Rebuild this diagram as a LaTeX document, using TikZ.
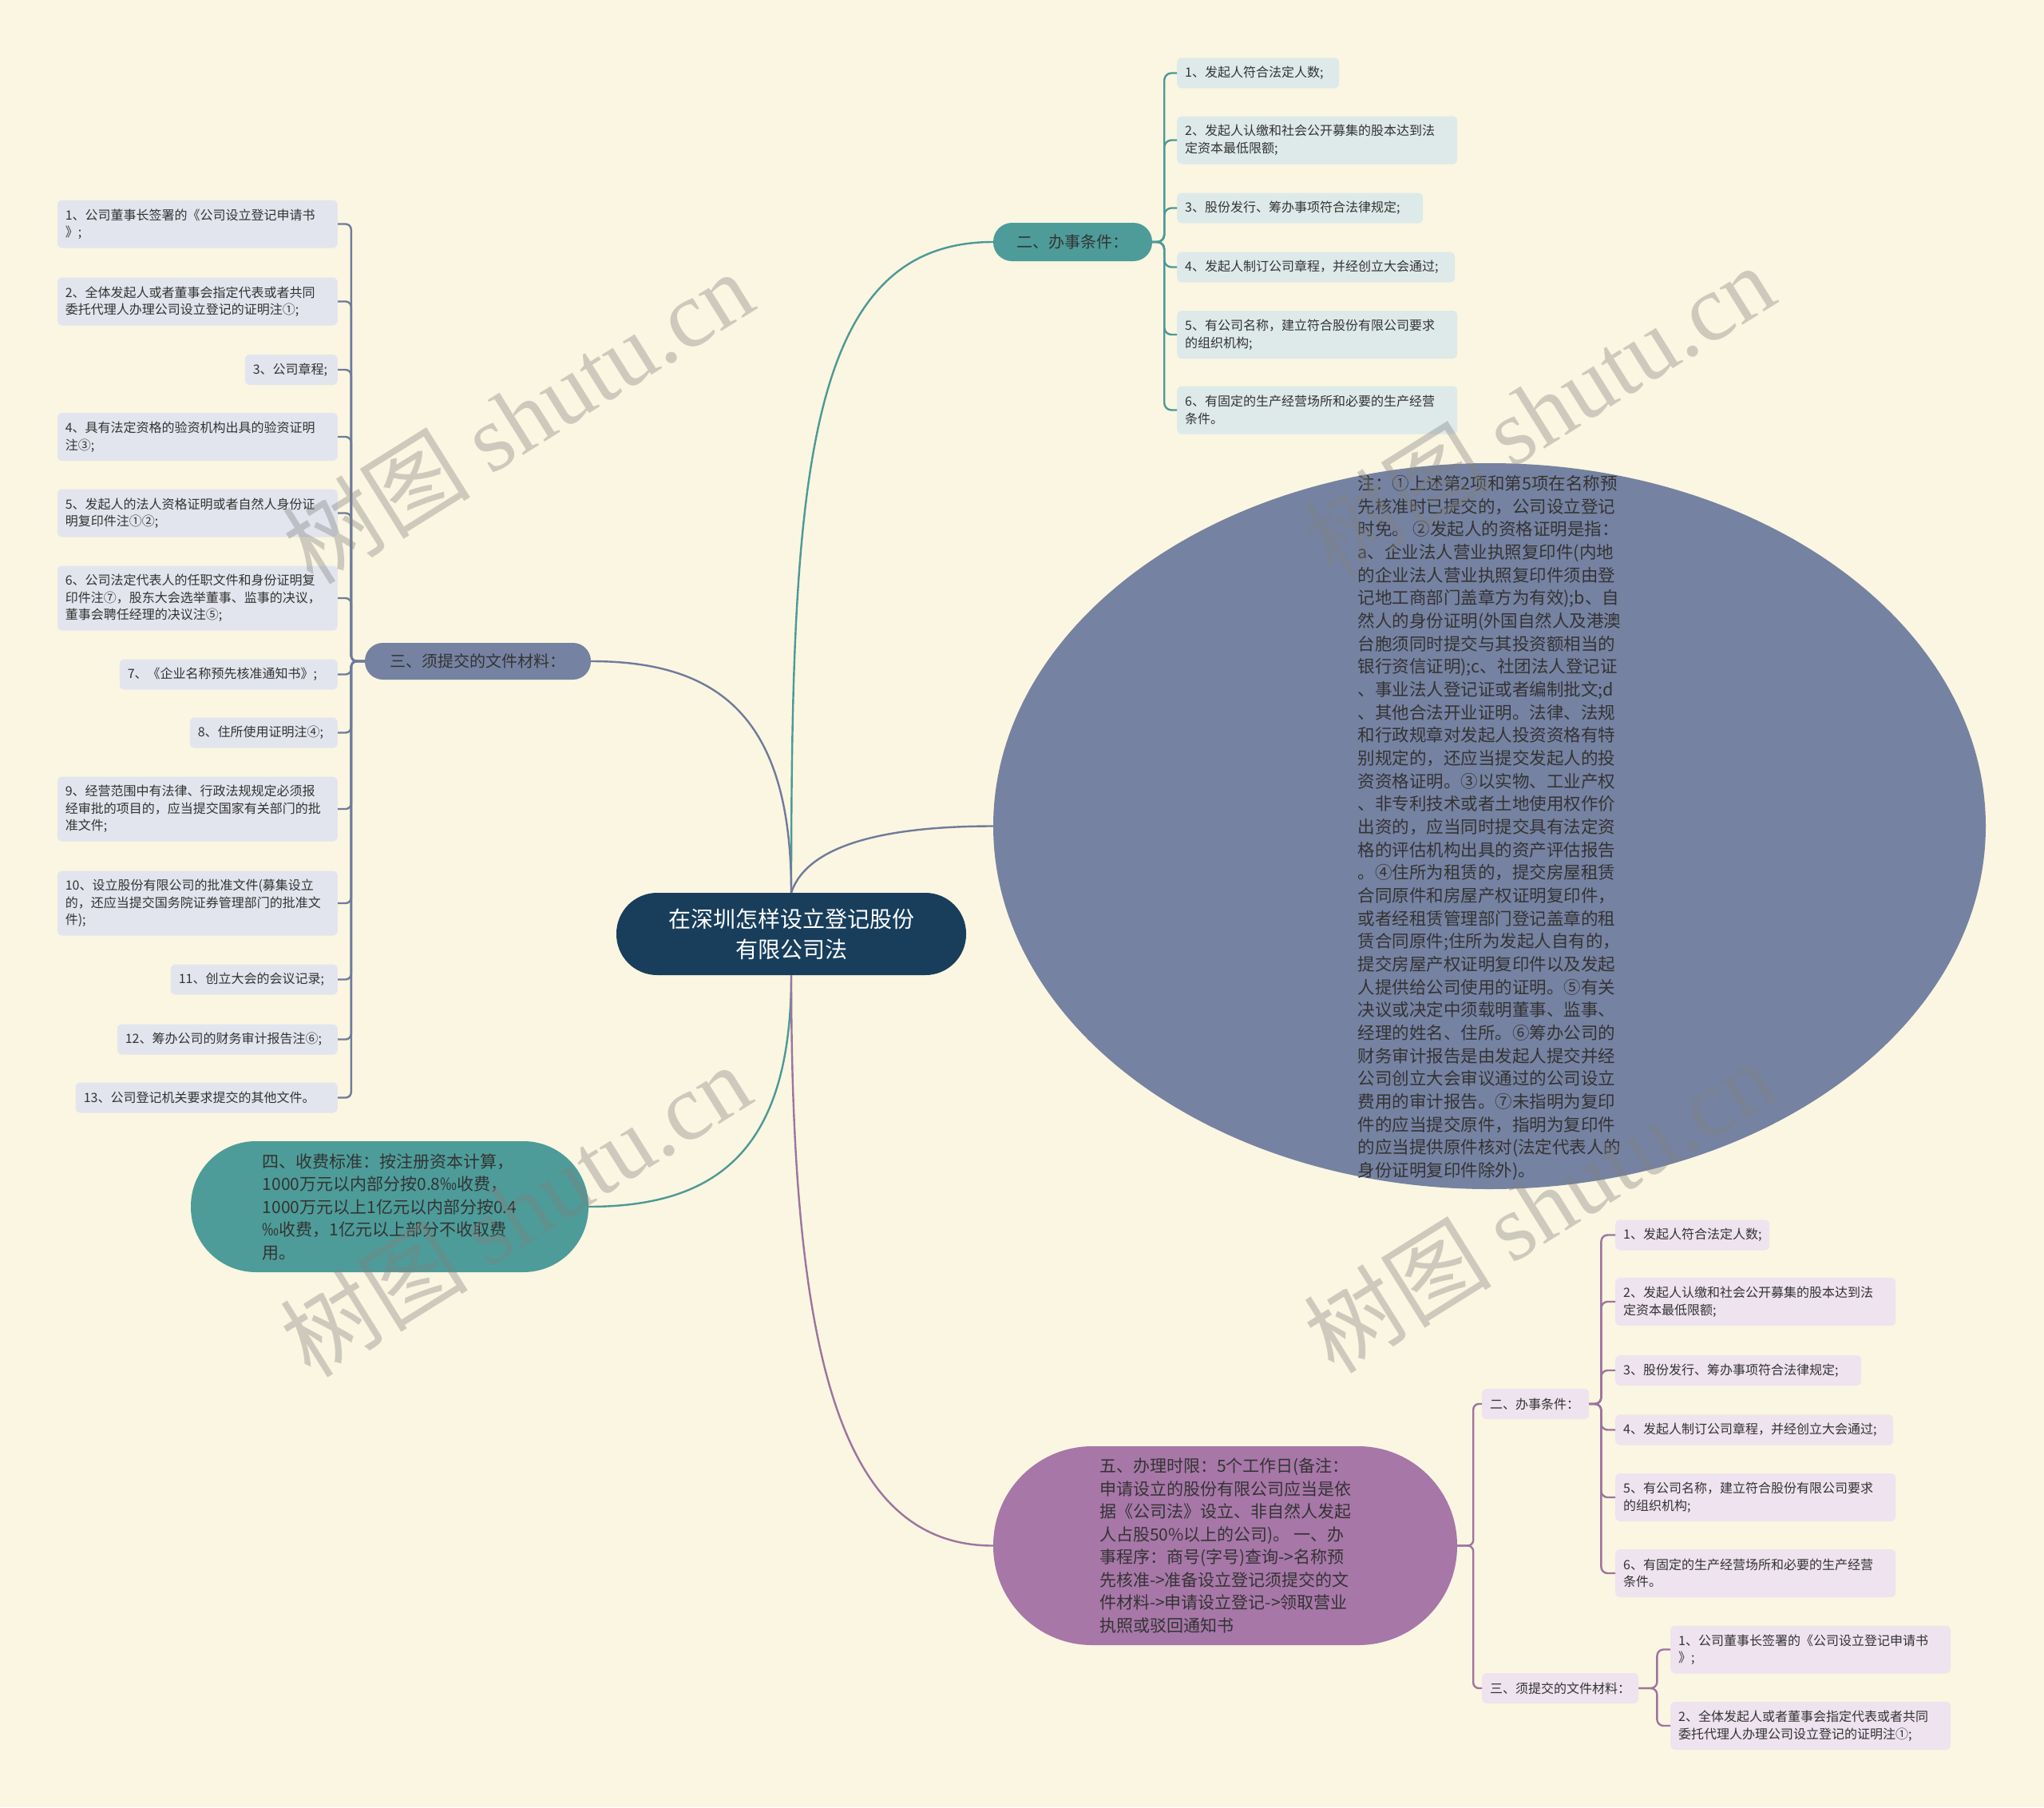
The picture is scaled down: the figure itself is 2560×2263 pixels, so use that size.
\documentclass[tikz,border=0pt]{standalone}
\usepackage{fontspec}
\setmainfont{Noto Sans CJK SC}
\newfontfamily\wmlatin{Liberation Serif}
\usetikzlibrary{shapes.geometric}
\definecolor{bgc}{HTML}{FAF6E1}
\definecolor{navy}{HTML}{183E5C}
\definecolor{tealc}{HTML}{4D9C99}
\definecolor{slatec}{HTML}{7682A1}
\definecolor{purpc}{HTML}{A777A8}
\definecolor{tealbox}{HTML}{DDEAE9}
\definecolor{slatebox}{HTML}{E3E5EE}
\definecolor{purpbox}{HTML}{EEE3EE}
\definecolor{tealline}{HTML}{4D9996}
\definecolor{slateline}{HTML}{6F7B9B}
\definecolor{purpline}{HTML}{9D74A0}
\definecolor{txt}{HTML}{333333}
\definecolor{wmc}{HTML}{808080}
\begin{document}
\begin{tikzpicture}[x=1pt,y=-1pt,
  every node/.style={text=txt},
  box/.style={rounded corners=6pt, inner xsep=10pt, inner ysep=3pt,
    font=\fontsize{16}{21.5}\selectfont, align=left, text width=#1},
  tb/.style={box=#1, fill=tealbox},
  lb/.style={box=#1, fill=slatebox},
  pb/.style={box=#1, fill=purpbox},
  oneline/.style={minimum height=38pt},
  twoline/.style={minimum height=60pt},
  threeline/.style={minimum height=81pt},
  hub/.style={fill=navy, text=white, minimum width=438pt, minimum height=103pt,
    rounded corners=51pt, font=\fontsize{28}{38}\selectfont, align=center, inner sep=0pt},
  topic/.style={inner sep=0pt, font=\fontsize{20}{26}\selectfont},
  bigtext/.style={inner sep=0pt, font=\fontsize{21}{28.5}\selectfont, align=left},
  tline/.style={draw=tealline, line width=2.4pt},
  sline/.style={draw=slateline, line width=2.4pt},
  pline/.style={draw=purpline, line width=2.4pt},
  wm/.style={text=wmc, text opacity=0.37, inner sep=0pt, rotate=32,
    font=\fontsize{118}{118}\selectfont}
]
\fill[bgc] (0,0) rectangle (2560,2263);
\useasboundingbox (0,0) rectangle (2560,2263);

% central
\node[hub] (c) at (991,1169.5) {在深圳怎样设立登记股份\\有限公司法};

% top right branch
\node[topic, fill=tealc, minimum width=199pt, minimum height=48pt, rounded corners=23.5pt] (t2) at (1343.5,303) {二、办事条件：};
\node[tb=183pt, oneline, anchor=west] (tc1) at (1474,91.5) {1、发起人符合法定人数;};
\node[tb=331pt, twoline, anchor=west] (tc2) at (1474,175.5) {2、发起人认缴和社会公开募集的股本达到法\\定资本最低限额;};
\node[tb=288pt, oneline, anchor=west] (tc3) at (1474,260.5) {3、股份发行、筹办事项符合法律规定;};
\node[tb=328pt, oneline, anchor=west] (tc4) at (1474,334.5) {4、发起人制订公司章程，并经创立大会通过;};
\node[tb=331pt, twoline, anchor=west] (tc5) at (1474,419) {5、有公司名称，建立符合股份有限公司要求\\的组织机构;};
\node[tb=331pt, twoline, anchor=west] (tc6) at (1474,513.5) {6、有固定的生产经营场所和必要的生产经营\\条件。};

% left branch
\node[topic, fill=slatec, minimum width=283pt, minimum height=46pt, rounded corners=22.5pt] (l3) at (598.5,828) {三、须提交的文件材料：};
\node[lb=331pt, twoline, anchor=east] (lc1) at (423,280.5) {1、公司董事长签署的《公司设立登记申请书\\》;};
\node[lb=331pt, twoline, anchor=east] (lc2) at (423,377.5) {2、全体发起人或者董事会指定代表或者共同\\委托代理人办理公司设立登记的证明注①;};
\node[lb=96pt, oneline, anchor=east] (lc3) at (423,463) {3、公司章程;};
\node[lb=331pt, twoline, anchor=east] (lc4) at (423,547) {4、具有法定资格的验资机构出具的验资证明\\注③;};
\node[lb=331pt, twoline, anchor=east] (lc5) at (423,642.5) {5、发起人的法人资格证明或者自然人身份证\\明复印件注①②;};
\node[lb=331pt, threeline, anchor=east] (lc6) at (423,749) {6、公司法定代表人的任职文件和身份证明复\\印件注⑦，股东大会选举董事、监事的决议，\\董事会聘任经理的决议注⑤;};
\node[lb=253pt, oneline, anchor=east] (lc7) at (423,844.5) {7、《企业名称预先核准通知书》;};
\node[lb=165pt, oneline, anchor=east] (lc8) at (423,917.5) {8、住所使用证明注④;};
\node[lb=331pt, threeline, anchor=east] (lc9) at (423,1013) {9、经营范围中有法律、行政法规规定必须报\\经审批的项目的，应当提交国家有关部门的批\\准文件;};
\node[lb=331pt, threeline, anchor=east] (lc10) at (423,1131) {10、设立股份有限公司的批准文件(募集设立\\的，还应当提交国务院证券管理部门的批准文\\件);};
\node[lb=189pt, oneline, anchor=east] (lc11) at (423,1226.5) {11、创立大会的会议记录;};
\node[lb=256pt, oneline, anchor=east] (lc12) at (423,1301.5) {12、筹办公司的财务审计报告注⑥;};
\node[lb=308pt, oneline, anchor=east] (lc13) at (423,1374.5) {13、公司登记机关要求提交的其他文件。};

% fee node
\node[bigtext, fill=tealc, minimum width=498pt, minimum height=164pt, rounded corners=81.5pt] (f4) at (488,1511) {四、收费标准：按注册资本计算，\\1000万元以内部分按0.8‰收费，\\1000万元以上1亿元以内部分按0.4\\‰收费，1亿元以上部分不收取费\\用。};

% ellipse note
\node[ellipse, fill=slatec, minimum width=1243pt, minimum height=909pt, inner sep=0pt] (noteshape) at (1865.5,1034.5) {};
\node[inner sep=0pt, font=\fontsize{21.5}{28.67}\selectfont, align=left] (note) at ([yshift=-2pt]noteshape.center) {注：①上述第2项和第5项在名称预\\先核准时已提交的，公司设立登记\\时免。 ②发起人的资格证明是指：\\a、企业法人营业执照复印件(内地\\的企业法人营业执照复印件须由登\\记地工商部门盖章方为有效);b、自\\然人的身份证明(外国自然人及港澳\\台胞须同时提交与其投资额相当的\\银行资信证明);c、社团法人登记证\\、事业法人登记证或者编制批文;d\\、其他合法开业证明。法律、法规\\和行政规章对发起人投资资格有特\\别规定的，还应当提交发起人的投\\资资格证明。③以实物、工业产权\\、非专利技术或者土地使用权作价\\出资的，应当同时提交具有法定资\\格的评估机构出具的资产评估报告\\。④住所为租赁的，提交房屋租赁\\合同原件和房屋产权证明复印件，\\或者经租赁管理部门登记盖章的租\\赁合同原件;住所为发起人自有的，\\提交房屋产权证明复印件以及发起\\人提供给公司使用的证明。⑤有关\\决议或决定中须载明董事、监事、\\经理的姓名、住所。⑥筹办公司的\\财务审计报告是由发起人提交并经\\公司创立大会审议通过的公司设立\\费用的审计报告。⑦未指明为复印\\件的应当提交原件，指明为复印件\\的应当提供原件核对(法定代表人的\\身份证明复印件除外)。};

% time limit node
\node[bigtext, fill=purpc, minimum width=581pt, minimum height=249pt, rounded corners=124pt] (f5) at (1534.5,1935.5) {五、办理时限：5个工作日(备注：\\申请设立的股份有限公司应当是依\\据《公司法》设立、非自然人发起\\人占股50\%以上的公司)。 一、办\\事程序：商号(字号)查询->名称预\\先核准->准备设立登记须提交的文\\件材料->申请设立登记->领取营业\\执照或驳回通知书};

% bottom right sub-branches
\node[pb=114pt, oneline, anchor=west] (b2) at (1856,1758) {二、办事条件：};
\node[pb=176pt, oneline, anchor=west] (b3) at (1856,2114) {三、须提交的文件材料：};
\node[pb=173pt, oneline, anchor=west] (bc1) at (2023,1546.5) {1、发起人符合法定人数;};
\node[pb=331pt, twoline, anchor=west] (bc2) at (2023,1630) {2、发起人认缴和社会公开募集的股本达到法\\定资本最低限额;};
\node[pb=288pt, oneline, anchor=west] (bc3) at (2023,1716) {3、股份发行、筹办事项符合法律规定;};
\node[pb=328pt, oneline, anchor=west] (bc4) at (2023,1790.5) {4、发起人制订公司章程，并经创立大会通过;};
\node[pb=331pt, twoline, anchor=west] (bc5) at (2023,1875) {5、有公司名称，建立符合股份有限公司要求\\的组织机构;};
\node[pb=331pt, twoline, anchor=west] (bc6) at (2023,1970) {6、有固定的生产经营场所和必要的生产经营\\条件。};
\node[pb=331pt, twoline, anchor=west] (bd1) at (2092,2065.5) {1、公司董事长签署的《公司设立登记申请书\\》;};
\node[pb=331pt, twoline, anchor=west] (bd2) at (2092,2161) {2、全体发起人或者董事会指定代表或者共同\\委托代理人办理公司设立登记的证明注①;};

% main connectors
\draw[tline] (c.north) .. controls +(0,-520) and +(-235,0) .. (t2.west);
\draw[sline] (c.north) .. controls +(20,-60) and +(-135,0) .. (noteshape.west);
\draw[sline] (c.north) .. controls +(0,-220) and +(160,0) .. (l3.east);
\draw[tline] (c.south) .. controls +(0,220) and +(160,0) .. (f4.east);
\draw[pline] (c.south) .. controls +(0,480) and +(-190,0) .. (f5.west);

% bracket connectors
\foreach \n in {tc1,tc2,tc3,tc4,tc5,tc6}
  \draw[tline, rounded corners=9pt] (t2.east) -- ++(15,0) |- (\n.west);
\foreach \n in {lc1,lc2,lc3,lc4,lc5,lc6,lc7,lc8,lc9,lc10,lc11,lc12,lc13}
  \draw[sline, rounded corners=7pt] (l3.west) -- ++(-17,0) |- (\n.east);
\foreach \n in {b2,b3}
  \draw[pline, rounded corners=7pt] (f5.east) -- ++(20,0) |- (\n.west);
\foreach \n in {bc1,bc2,bc3,bc4,bc5,bc6}
  \draw[pline, rounded corners=8pt] (b2.east) -- ++(15,0) |- (\n.west);
\foreach \n in {bd1,bd2}
  \draw[pline, rounded corners=8pt] (b3.east) -- ++(23,0) |- (\n.west);

% watermarks
\node[wm] (wm1) at (648,522) {树图 {\wmlatin shutu.cn}};
\node[wm] (wm2) at (1927,514) {树图 {\wmlatin shutu.cn}};
\node[wm] (wm3) at (645,1515) {树图 {\wmlatin shutu.cn}};
\node[wm] (wm4) at (1927,1510) {树图 {\wmlatin shutu.cn}};
\end{tikzpicture}
\end{document}
